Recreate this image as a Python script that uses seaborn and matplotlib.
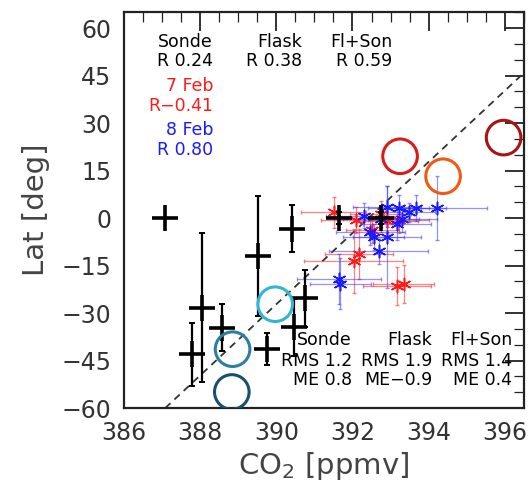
import numpy as np
import pandas as pd
import matplotlib
matplotlib.use("Agg")
import matplotlib.pyplot as plt
from matplotlib.ticker import MultipleLocator
import seaborn as sns

# ---------------- data ----------------
# Sonde (black crosses)
sonde_co2 = [387.08, 388.05, 387.78, 388.57, 389.76, 389.52, 390.41, 390.76, 390.46, 391.64, 392.74]
sonde_lat = [0.0, -28.3, -43.0, -34.6, -41.4, -12.0, -3.4, -25.3, -34.4, 0.0, 0.0]
sonde_lat_err = [0.0, 23.5, 10.0, 7.5, 5.0, 19.0, 7.4, 9.0, 9.0, 2.0, 2.0]

# Flask (open circles)
flask_co2 = [395.97, 393.25, 394.38, 389.97, 388.85, 388.83]
flask_lat = [25.4, 19.5, 13.2, -27.2, -41.4, -54.9]
flask_colors = ["#a81414", "#d81c1c", "#f05a14", "#33b5d6", "#2a7fa3", "#1b4f6e"]

# 7 Feb (red asterisks)
feb7_co2 = [391.51, 392.08, 392.74, 392.91, 393.22, 392.52, 392.17, 392.03, 393.17, 393.35]
feb7_lat = [1.8, -0.6, 1.3, -0.8, -0.6, -3.9, -11.3, -13.6, -21.3, -20.7]
feb7_co2_err = [0.85, 0.9, 0.8, 0.8, 0.8, 0.7, 0.9, 1.3, 0.9, 0.8]
feb7_lat_err = [5.0, 4.0, 4.0, 4.0, 4.0, 4.0, 8.0, 10.0, 6.0, 6.0]

# 8 Feb (blue asterisks)
feb8_co2 = [392.91, 393.22, 393.66, 394.23, 393.48, 393.31, 392.30, 392.74, 393.17,
            392.47, 392.56, 392.91, 392.69, 391.64, 391.68]
feb8_lat = [3.6, 3.2, 3.2, 3.2, 1.8, -0.3, 0.8, -0.3, -1.8, -4.5, -6.0, -6.0, -10.5, -19.2, -20.7]
feb8_co2_err = [0.9, 0.8, 0.8, 1.3, 0.7, 0.9, 1.0, 1.0, 0.9, 0.9, 0.8, 0.9, 1.3, 1.1, 0.8]
feb8_lat_err = [6.5, 4.0, 4.0, 10.0, 3.0, 4.0, 4.0, 4.0, 5.0, 4.0, 4.0, 16.0, 4.0, 8.0, 8.0]

# dashed fit line
fit_co2 = [387.08, 396.5]
fit_lat = [-60.0, 45.8]

x_ticks = [386, 388, 390, 392, 394, 396]
y_ticks = [-60, -45, -30, -15, 0, 15, 30, 45, 60]

# ---------------- plot ----------------
sns.set_theme(style="white")
plt.rcParams['font.family'] = ['DejaVu Sans']

fig = plt.figure(figsize=(5.28, 4.87), dpi=100)
ax = fig.add_axes([0.235, 0.162, 0.757, 0.813])

# dashed line
sns.lineplot(x=fit_co2, y=fit_lat, ax=ax, color="#333333", lw=1.3,
             linestyle=(0, (4, 3)), zorder=2)

# 7 Feb
ax.errorbar(feb7_co2, feb7_lat, xerr=feb7_co2_err, yerr=feb7_lat_err, fmt="none",
            ecolor="#ff3030", elinewidth=0.9, capsize=1.5, alpha=0.6, zorder=3)
sns.scatterplot(x=feb7_co2, y=feb7_lat, ax=ax, marker=(6, 2, 0), s=80,
                color="#ff1a1a", linewidth=1.1, zorder=4)

# 8 Feb
ax.errorbar(feb8_co2, feb8_lat, xerr=feb8_co2_err, yerr=feb8_lat_err, fmt="none",
            ecolor="#3a3aff", elinewidth=0.9, capsize=1.5, alpha=0.55, zorder=3)
sns.scatterplot(x=feb8_co2, y=feb8_lat, ax=ax, marker=(6, 2, 0), s=80,
                color="#1a1aff", linewidth=1.1, zorder=4)

# Sonde
ax.errorbar(sonde_co2, sonde_lat, yerr=sonde_lat_err, fmt="none", ecolor="black",
            elinewidth=1.6, capsize=2.5, capthick=1.4, zorder=5)
sns.scatterplot(x=sonde_co2, y=sonde_lat, ax=ax, marker="+", s=330,
                color="black", linewidth=2.6, zorder=6)

# Flask circles
fdf = pd.DataFrame({"co2": flask_co2, "lat": flask_lat, "k": list(range(len(flask_co2)))})
sns.scatterplot(data=fdf, x="co2", y="lat", hue="k", palette=flask_colors, ax=ax,
                marker="o", s=620, linewidth=2.2, legend=False, zorder=7)
coll = ax.collections[-1]
coll.set_edgecolors(coll.get_facecolors())
coll.set_facecolor("none")

ax.set_xlim(386, 396.5)
ax.set_ylim(-60, 65)
ax.set_xticks(x_ticks)
ax.set_yticks(y_ticks)
ax.xaxis.set_minor_locator(MultipleLocator(0.5))
ax.yaxis.set_minor_locator(MultipleLocator(5))
ax.tick_params(which="both", direction="in", top=True, right=True, color="#222222")
ax.tick_params(which="major", length=14, width=1.3, labelsize=17, labelcolor="#333333", pad=9)
ax.tick_params(which="minor", length=7, width=0.9)
for sp in ax.spines.values():
    sp.set_color("#222222")
    sp.set_linewidth(1.6)

ax.set_xlabel("CO$_2$ [ppmv]", fontsize=21, color="#444444", labelpad=4)
ax.set_ylabel("Lat [deg]", fontsize=21, color="#444444", labelpad=8)

def px(x, y):
    return fig.transFigure.inverted().transform((x, 487 - y))

fs = 12.5
items = [
    (213, 42, "Sonde", "black"), (213, 61, "R 0.24", "black"),
    (302, 42, "Flask", "black"), (302, 61, "R 0.38", "black"),
    (392, 42, "Fl+Son", "black"), (392, 61, "R 0.59", "black"),
    (213, 86, "7 Feb", "#ff1a1a"), (213, 106, "R\u22120.41", "#ff1a1a"),
    (213, 130, "8 Feb", "#1a1aff"), (213, 150, "R 0.80", "#1a1aff"),
    (352, 340, "Sonde", "black"), (352, 361, "RMS 1.2", "black"), (352, 380, "ME 0.8", "black"),
    (432, 340, "Flask", "black"), (432, 361, "RMS 1.9", "black"), (432, 380, "ME\u22120.9", "black"),
    (512, 340, "Fl+Son", "black"), (512, 361, "RMS 1.4", "black"), (512, 380, "ME 0.4", "black"),
]
for x, y, t, c in items:
    fx, fy = px(x, y)
    fig.text(fx, fy, t, ha="right", va="center", fontsize=fs, color=c, zorder=10)

fig.savefig("out.png", dpi=100)
